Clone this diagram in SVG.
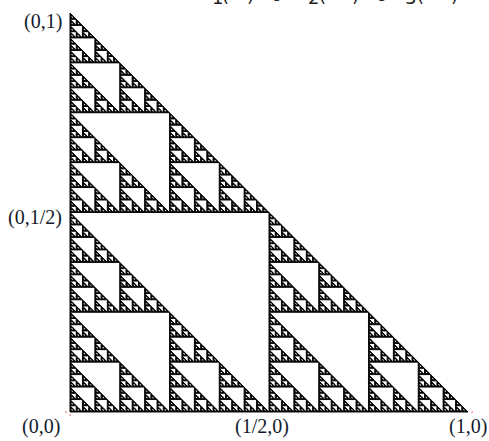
<svg xmlns="http://www.w3.org/2000/svg" xmlns:xlink="http://www.w3.org/1999/xlink" width="489" height="441" viewBox="0 0 489 441">
<style>
.lbl{font-family:"Liberation Serif","Times New Roman",serif;font-size:20px;fill:#121a2c}
.top{font-family:"DejaVu Sans","Liberation Sans",sans-serif;font-size:18px;fill:#222}
.red{fill:#e03030}
</style>
<defs>
<polygon id="t0" points="0,0 0,399 398,399" fill="#000" stroke="#000" stroke-width="120" stroke-linejoin="round"/>
<g id="t1"><use xlink:href="#t0" href="#t0" transform="scale(.5)"/><use xlink:href="#t0" href="#t0" transform="translate(0,199.5) scale(.5)"/><use xlink:href="#t0" href="#t0" transform="translate(199,199.5) scale(.5)"/></g>
<g id="t2"><use xlink:href="#t1" href="#t1" transform="scale(.5)"/><use xlink:href="#t1" href="#t1" transform="translate(0,199.5) scale(.5)"/><use xlink:href="#t1" href="#t1" transform="translate(199,199.5) scale(.5)"/></g>
<g id="t3"><use xlink:href="#t2" href="#t2" transform="scale(.5)"/><use xlink:href="#t2" href="#t2" transform="translate(0,199.5) scale(.5)"/><use xlink:href="#t2" href="#t2" transform="translate(199,199.5) scale(.5)"/></g>
<g id="t4"><use xlink:href="#t3" href="#t3" transform="scale(.5)"/><use xlink:href="#t3" href="#t3" transform="translate(0,199.5) scale(.5)"/><use xlink:href="#t3" href="#t3" transform="translate(199,199.5) scale(.5)"/></g>
<g id="t5"><use xlink:href="#t4" href="#t4" transform="scale(.5)"/><use xlink:href="#t4" href="#t4" transform="translate(0,199.5) scale(.5)"/><use xlink:href="#t4" href="#t4" transform="translate(199,199.5) scale(.5)"/></g>
<g id="t6"><use xlink:href="#t5" href="#t5" transform="scale(.5)"/><use xlink:href="#t5" href="#t5" transform="translate(0,199.5) scale(.5)"/><use xlink:href="#t5" href="#t5" transform="translate(199,199.5) scale(.5)"/></g>
<g id="t7"><use xlink:href="#t6" href="#t6" transform="scale(.5)"/><use xlink:href="#t6" href="#t6" transform="translate(0,199.5) scale(.5)"/><use xlink:href="#t6" href="#t6" transform="translate(199,199.5) scale(.5)"/></g>
</defs>
<rect width="489" height="441" fill="#fff"/>
<g id="formula-fragment" class="top">
<text x="212" y="4">1</text><text x="222" y="1.5">(</text><text x="247" y="1.5">)</text><text x="270" y="1">∪</text>
<text x="308" y="4">2</text><text x="319" y="1.5">(</text><text x="352" y="1.5">)</text><text x="375" y="1">∪</text>
<text x="405" y="4">3</text><text x="417" y="1.5">(</text><text x="451" y="1.5">)</text>
</g>
<g id="sierpinski" transform="translate(70,13)">
<use xlink:href="#t7" href="#t7"/>
</g>
<g id="marks" class="red">
<rect x="65.5" y="411.5" width="1.2" height="1.2"/>
<rect x="69.5" y="414.5" width="1.2" height="1.2"/>
<rect x="471.5" y="411.5" width="1.2" height="1.2"/>
</g>
<g id="labels" class="lbl">
<text x="24" y="28">(0,1)</text>
<text x="8" y="224">(0,1/2)</text>
<text x="22" y="433">(0,0)</text>
<text x="235" y="433">(1/2,0)</text>
<text x="449" y="433">(1,0)</text>
</g>
</svg>
